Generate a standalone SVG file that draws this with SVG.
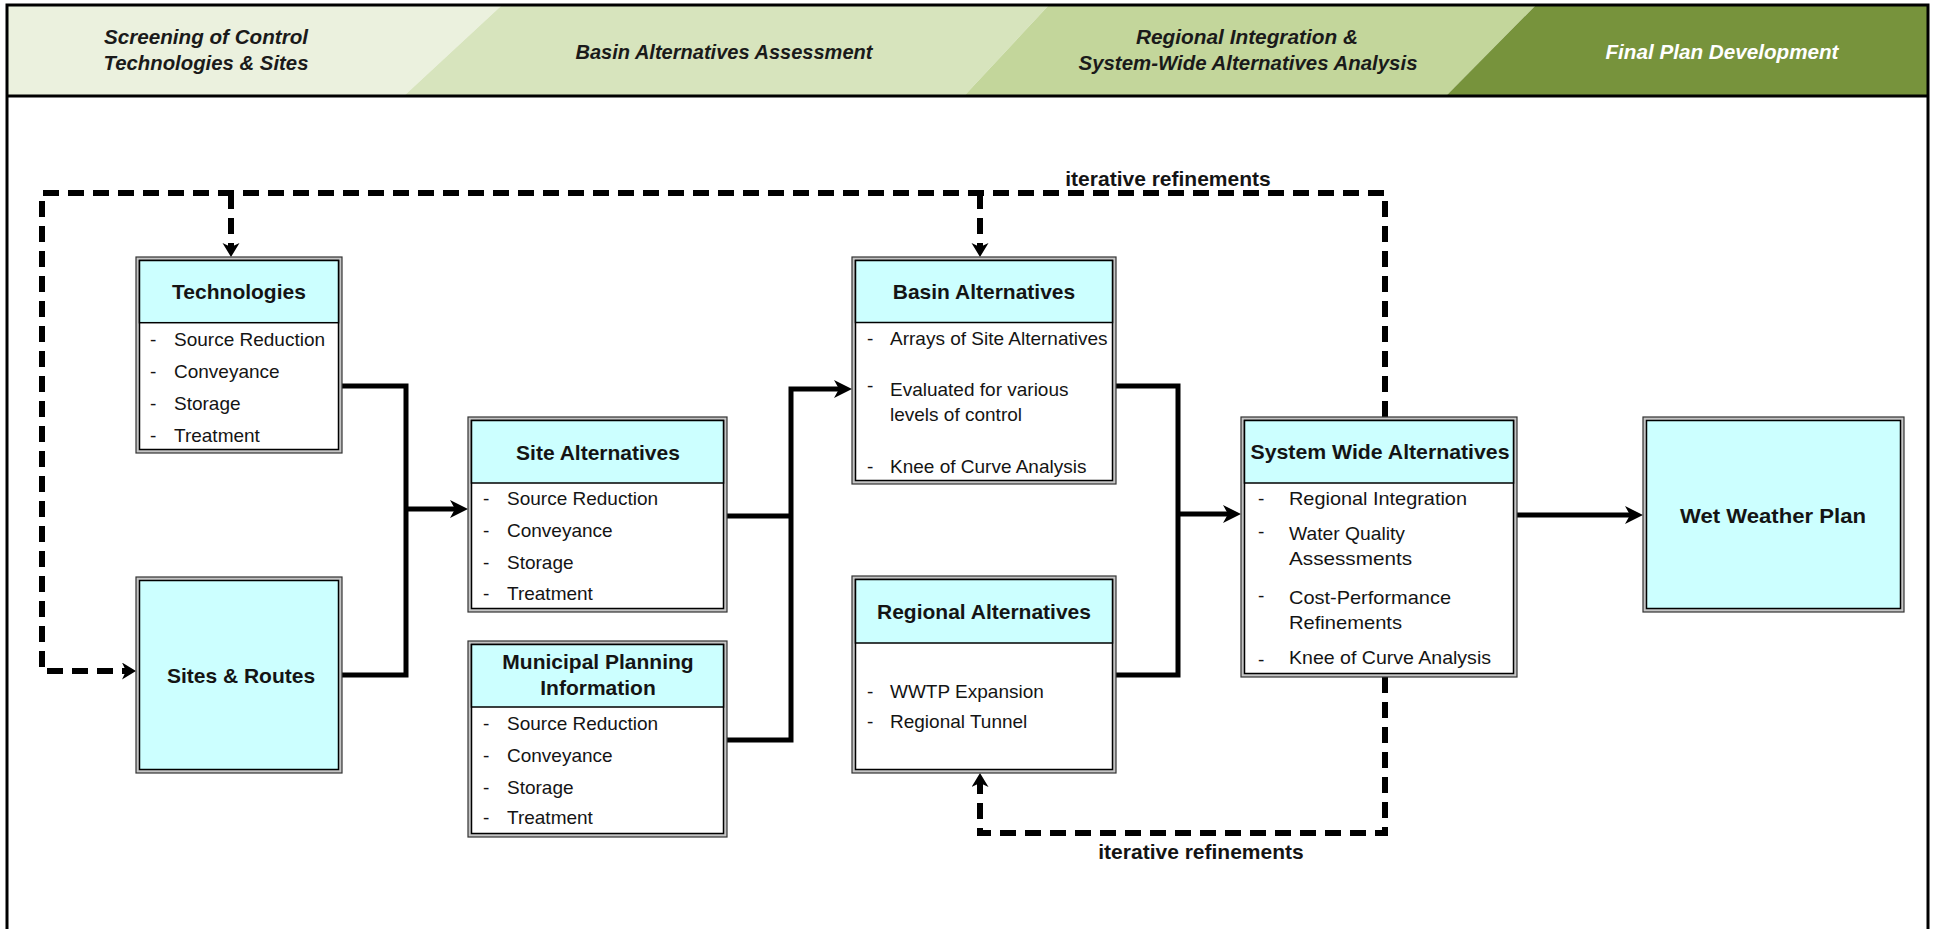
<svg xmlns="http://www.w3.org/2000/svg" width="1938" height="929" viewBox="0 0 1938 929">
<style>
.bo{fill:#c4c4c4;stroke:#333;stroke-width:1.2}
.bi{fill:#fff;stroke:#000;stroke-width:1.5}
.bc{fill:#ccffff;stroke:#000;stroke-width:1.5}
.t{font-family:"Liberation Sans",Arial,sans-serif;font-size:19px;fill:#141414}
.n{font-family:"Liberation Sans Narrow","Liberation Sans",Arial,sans-serif}
.h{font-family:"Liberation Sans",Arial,sans-serif;font-size:21px;font-weight:bold;fill:#141414;text-anchor:middle}
.hd{font-family:"Liberation Sans Narrow","Liberation Sans",Arial,sans-serif;font-size:21px;font-weight:bold;font-style:italic;fill:#1a1a1a;text-anchor:middle}
.sl{fill:none;stroke:#000;stroke-width:5;stroke-linejoin:miter}
.dl{fill:none;stroke:#000;stroke-width:6;stroke-dasharray:16 9}
</style>
<defs>
<marker id="as" markerUnits="userSpaceOnUse" markerWidth="20" markerHeight="20" refX="8" refY="9" orient="auto">
<path d="M0,0 L18,9 L0,18 L5,9 Z" fill="#000"/>
</marker>
<marker id="ad" markerUnits="userSpaceOnUse" markerWidth="20" markerHeight="20" refX="4" refY="8.5" orient="auto">
<path d="M0,0 L14,8.5 L0,17 L4,8.5 Z" fill="#000"/>
</marker>
</defs>
<rect width="1938" height="929" fill="#fff"/>
<g id="header">
<polygon points="8,6 501,6 405,95 8,95" fill="#ebf1de"/>
<polygon points="501,6 1048,6 965,95 405,95" fill="#d7e4bd"/>
<polygon points="1048,6 1535,6 1447,95 965,95" fill="#c3d69b"/>
<polygon points="1535,6 1928,6 1928,95 1447,95" fill="#77933c"/>
<line x1="7" y1="96" x2="1928" y2="96" stroke="#000" stroke-width="3"/>
<text class="hd" x="206" y="44" textLength="204" lengthAdjust="spacingAndGlyphs">Screening of Control</text>
<text class="hd" x="206" y="70" textLength="205" lengthAdjust="spacingAndGlyphs">Technologies &amp; Sites</text>
<text class="hd" x="724" y="59" textLength="297" lengthAdjust="spacingAndGlyphs">Basin Alternatives Assessment</text>
<text class="hd" x="1247" y="44" textLength="222" lengthAdjust="spacingAndGlyphs">Regional Integration &amp;</text>
<text class="hd" x="1248" y="70" textLength="339" lengthAdjust="spacingAndGlyphs">System-Wide Alternatives Analysis</text>
<text class="hd" x="1722" y="59" textLength="233" lengthAdjust="spacingAndGlyphs" fill="#fff" style="fill:#fff">Final Plan Development</text>
</g>
<g id="frame" fill="none" stroke="#000" stroke-width="3">
<path d="M7,935 V5 H1928 V935"/>
</g>
<g id="connectors">
<path class="sl" d="M342,386 H406 V675 H342"/>
<path class="sl" d="M406,509 H458" marker-end="url(#as)"/>
<path class="sl" d="M727,516 H791"/>
<path class="sl" d="M727,740 H791 V389 H842" marker-end="url(#as)"/>
<path class="sl" d="M1116,386 H1178 V675 H1116"/>
<path class="sl" d="M1178,514 H1231" marker-end="url(#as)"/>
<path class="sl" d="M1517,515 H1633" marker-end="url(#as)"/>
<path class="dl" d="M1385,417 V193 H42 V671 H126" marker-end="url(#ad)"/>
<path class="dl" d="M231,193 V247" marker-end="url(#ad)"/>
<path class="dl" d="M980,193 V247" marker-end="url(#ad)"/>
<path class="dl" d="M1385,677 V833 H980 V783" marker-end="url(#ad)"/>
<text class="h" x="1168" y="185.5">iterative refinements</text>
<text class="h" x="1201" y="858.5">iterative refinements</text>
</g>
<g id="technologies">
<rect class="bo" x="136" y="257" width="206" height="196"/>
<rect class="bi" x="139.5" y="260.5" width="199" height="189"/>
<rect class="bc" x="139.5" y="260.5" width="199" height="62.2"/>
<text class="h" x="239" y="298.5">Technologies</text>
<g class="t"><text x="150" y="346">-</text><text x="174" y="346">Source Reduction</text>
<text x="150" y="378">-</text><text x="174" y="378">Conveyance</text>
<text x="150" y="410">-</text><text x="174" y="410">Storage</text>
<text x="150" y="442">-</text><text x="174" y="442">Treatment</text></g>
</g>
<g id="sites-routes">
<rect class="bo" x="136" y="577" width="206" height="196"/>
<rect class="bc" x="139.5" y="580.5" width="199" height="189"/>
<text class="h" x="241" y="682.5">Sites &amp; Routes</text>
</g>
<g id="site-alternatives">
<rect class="bo" x="468" y="417" width="259" height="195"/>
<rect class="bi" x="471.5" y="420.5" width="252" height="188"/>
<rect class="bc" x="471.5" y="420.5" width="252" height="62.5"/>
<text class="h" x="598" y="459.5">Site Alternatives</text>
<g class="t"><text x="483" y="505">-</text><text x="507" y="505">Source Reduction</text>
<text x="483" y="537">-</text><text x="507" y="537">Conveyance</text>
<text x="483" y="569">-</text><text x="507" y="569">Storage</text>
<text x="483" y="600">-</text><text x="507" y="600">Treatment</text></g>
</g>
<g id="municipal-planning">
<rect class="bo" x="468" y="641" width="259" height="196"/>
<rect class="bi" x="471.5" y="644.5" width="252" height="189"/>
<rect class="bc" x="471.5" y="644.5" width="252" height="62.5"/>
<text class="h" x="598" y="668.5">Municipal Planning</text>
<text class="h" x="598" y="694.5">Information</text>
<g class="t"><text x="483" y="730">-</text><text x="507" y="730">Source Reduction</text>
<text x="483" y="762">-</text><text x="507" y="762">Conveyance</text>
<text x="483" y="794">-</text><text x="507" y="794">Storage</text>
<text x="483" y="824">-</text><text x="507" y="824">Treatment</text></g>
</g>
<g id="basin-alternatives">
<rect class="bo" x="852" y="257" width="264" height="227"/>
<rect class="bi" x="855.5" y="260.5" width="257" height="220"/>
<rect class="bc" x="855.5" y="260.5" width="257" height="62"/>
<text class="h" x="984" y="298.5">Basin Alternatives</text>
<g class="t"><text x="867" y="345">-</text><text x="890" y="345">Arrays of Site Alternatives</text>
<text x="867" y="392">-</text><text x="890" y="396">Evaluated for various</text>
<text x="890" y="421">levels of control</text>
<text x="867" y="472.5">-</text><text x="890" y="472.5">Knee of Curve Analysis</text></g>
</g>
<g id="regional-alternatives">
<rect class="bo" x="852" y="576" width="264" height="197"/>
<rect class="bi" x="855.5" y="579.5" width="257" height="190"/>
<rect class="bc" x="855.5" y="579.5" width="257" height="63.5"/>
<text class="h" x="984" y="618.5">Regional Alternatives</text>
<g class="t"><text x="867" y="698">-</text><text x="890" y="698">WWTP Expansion</text>
<text x="867" y="728">-</text><text x="890" y="728">Regional Tunnel</text></g>
</g>
<g id="system-wide-alternatives">
<rect class="bo" x="1241" y="417" width="276" height="260"/>
<rect class="bi" x="1244.5" y="420.5" width="269" height="253"/>
<rect class="bc" x="1244.5" y="420.5" width="269" height="62.5"/>
<text class="h n" x="1380" y="458.5" textLength="259" lengthAdjust="spacingAndGlyphs">System Wide Alternatives</text>
<g class="t n"><text x="1258" y="505">-</text><text x="1289" y="505" textLength="178" lengthAdjust="spacingAndGlyphs">Regional Integration</text>
<text x="1258" y="538">-</text><text x="1289" y="540" textLength="116" lengthAdjust="spacingAndGlyphs">Water Quality</text>
<text x="1289" y="565" textLength="123" lengthAdjust="spacingAndGlyphs">Assessments</text>
<text x="1258" y="602">-</text><text x="1289" y="604" textLength="162" lengthAdjust="spacingAndGlyphs">Cost-Performance</text>
<text x="1289" y="629" textLength="113" lengthAdjust="spacingAndGlyphs">Refinements</text>
<text x="1258" y="666">-</text><text x="1289" y="664" textLength="202" lengthAdjust="spacingAndGlyphs">Knee of Curve Analysis</text></g>
</g>
<g id="wet-weather-plan">
<rect class="bo" x="1643" y="417" width="261" height="195"/>
<rect class="bc" x="1646.5" y="420.5" width="254" height="188"/>
<text class="h n" x="1773" y="522.5" textLength="186" lengthAdjust="spacingAndGlyphs">Wet Weather Plan</text>
</g>
</svg>
